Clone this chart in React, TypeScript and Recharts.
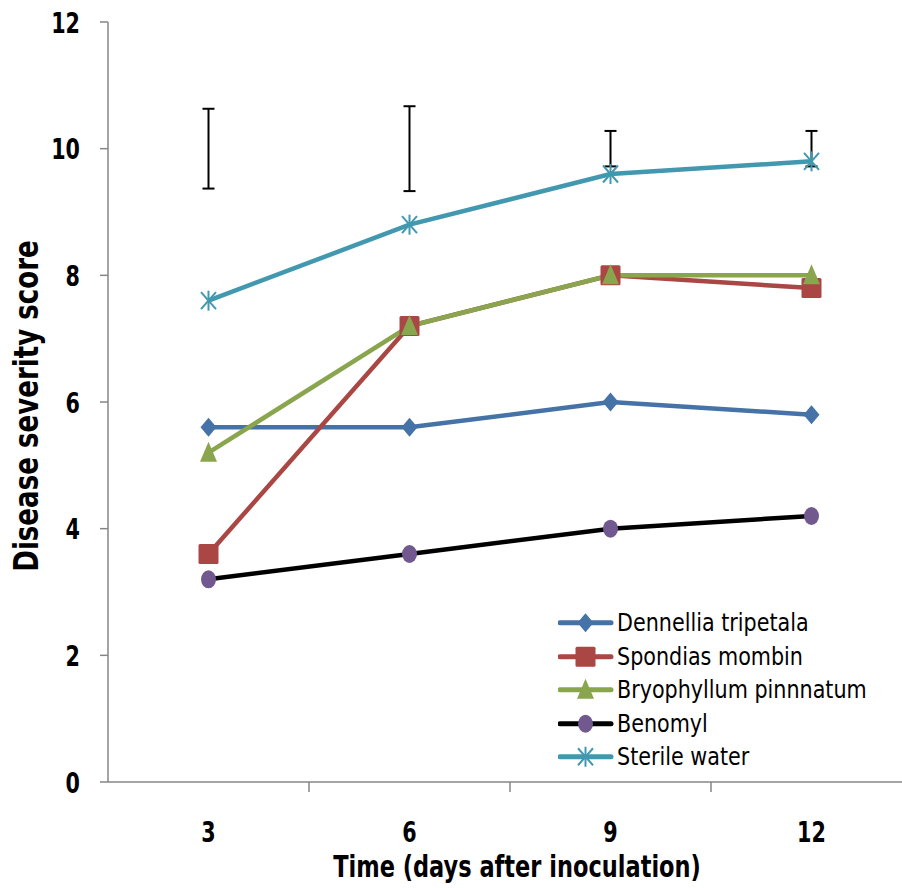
import React from 'react';
import { LineChart, Line, XAxis, YAxis, ErrorBar, Legend, Label } from 'recharts';

const days = [3, 6, 9, 12];
const dennellia = [5.6, 5.6, 6.0, 5.8];
const spondias = [3.6, 7.2, 8.0, 7.8];
const bryophyllum = [5.2, 7.2, 8.0, 8.0];
const benomyl = [3.2, 3.6, 4.0, 4.2];
const sterileWater = [7.6, 8.8, 9.6, 9.8];
const errCenter = [10.0, 10.0, 10.0, 10.0];
const errHalf = [0.63, 0.67, 0.28, 0.28];
const yTicks = [0, 2, 4, 6, 8, 10, 12];
const xTicks = [3, 4.5, 6, 7.5, 9, 10.5, 12];
const seriesNames = ['Dennellia tripetala', 'Spondias mombin', 'Bryophyllum pinnnatum', 'Benomyl', 'Sterile water'];
const xTitle = 'Time (days after inoculation)';
const yTitle = 'Disease severity score';

const FONT = '"Liberation Sans Narrow", "DejaVu Sans Condensed", "Open Sans", sans-serif';
const AXIS = '#868686';
const BLUE = '#4572A7';
const RED = '#AA4643';
const GREEN = '#89A54E';
const PURPLE = '#71588F';
const TEAL = '#4198AF';

const data = days.map((d, i) => ({
  day: d,
  den: dennellia[i],
  spo: spondias[i],
  bry: bryophyllum[i],
  ben: benomyl[i],
  ste: sterileWater[i],
  errMid: errCenter[i],
  errRange: errHalf[i],
}));

type M = (cx: number, cy: number, key?: string) => React.ReactElement;

const diamond: M = (cx, cy, key) => (
  <path key={key} d={`M${cx},${cy - 9.5} L${cx + 8},${cy} L${cx},${cy + 9.5} L${cx - 8},${cy} Z`} fill={BLUE} />
);
const square: M = (cx, cy, key) => (
  <rect key={key} x={cx - 10} y={cy - 10} width={20} height={20} rx={1.5} fill={RED} />
);
const triangle: M = (cx, cy, key) => (
  <path key={key} d={`M${cx},${cy - 11} L${cx + 8.5},${cy + 9} L${cx - 8.5},${cy + 9} Z`} fill={GREEN} />
);
const ellipse: M = (cx, cy, key) => (
  <ellipse key={key} cx={cx} cy={cy} rx={7.5} ry={9} fill={PURPLE} />
);
const star: M = (cx, cy, key) => (
  <g key={key} stroke={TEAL} strokeWidth={2}>
    <line x1={cx - 7.5} y1={cy - 8.5} x2={cx + 7.5} y2={cy + 8.5} />
    <line x1={cx - 7.5} y1={cy + 8.5} x2={cx + 7.5} y2={cy - 8.5} />
    <line x1={cx} y1={cy - 10} x2={cx} y2={cy + 10} />
  </g>
);

const series = [
  { key: 'den', name: seriesNames[0], color: BLUE, marker: diamond },
  { key: 'spo', name: seriesNames[1], color: RED, marker: square },
  { key: 'bry', name: seriesNames[2], color: GREEN, marker: triangle },
  { key: 'ben', name: seriesNames[3], color: '#000000', marker: ellipse },
  { key: 'ste', name: seriesNames[4], color: TEAL, marker: star },
];

// Scaled SVG text (tall, narrow look)
const ST = (p: {
  x: number; y: number; size: number; sy: number; anchor: 'start' | 'middle' | 'end';
  rotate?: number; dyEm?: number; children: React.ReactNode;
}) => (
  <g transform={`translate(${p.x},${p.y}) rotate(${p.rotate || 0}) scale(1,${p.sy})`}>
    <text
      x={0}
      y={(p.dyEm || 0) * p.size}
      textAnchor={p.anchor}
      fontSize={p.size}
      fontWeight={700}
      fontFamily={FONT}
      fill="#000"
    >
      {p.children}
    </text>
  </g>
);

const XTick = (props: any) => {
  const { x, y, payload } = props;
  const v = payload.value;
  if (v % 3 === 0) {
    return (
      <ST x={x} y={y + 60} size={23} sy={1.25} anchor="middle">
        {v}
      </ST>
    );
  }
  return <line x1={x} y1={y} x2={x} y2={y + 10} stroke={AXIS} strokeWidth={1.5} />;
};

const YTick = (props: any) => {
  const { x, y, payload } = props;
  return (
    <ST x={x} y={y} size={23} sy={1.25} anchor="end" dyEm={0.365}>
      {payload.value}
    </ST>
  );
};

const LegendContent = () => (
  <div style={{ fontFamily: FONT, fontSize: 23, color: '#000' }}>
    {series.map((s) => (
      <div key={s.key} style={{ height: 33.5, display: 'flex', alignItems: 'center', whiteSpace: 'nowrap' }}>
        <svg width={59} height={33.5} style={{ display: 'block', flexShrink: 0 }}>
          <line x1={2} y1={16.75} x2={53} y2={16.75} stroke={s.color} strokeWidth={5} strokeLinecap="round" />
          {s.marker(27.5, 16.75)}
        </svg>
        <span style={{ display: 'inline-block', lineHeight: '33.5px', transform: 'scaleY(1.1)' }}>{s.name}</span>
      </div>
    ))}
  </div>
);

export default function App() {
  return (
    <div style={{ position: 'absolute', left: 0, top: 0 }}>
      <LineChart width={920} height={888} data={data} margin={{ top: 22, right: 8, bottom: 0, left: 0 }}>
        <XAxis
          dataKey="day"
          type="number"
          domain={[1.5, 13.5]}
          ticks={xTicks}
          interval={0}
          tickSize={0}
          tickMargin={0}
          tickLine={false}
          axisLine={{ stroke: AXIS, strokeWidth: 1.5 }}
          height={106}
          tick={<XTick />}
          allowDataOverflow
        >
          <Label
            content={(p: any) => {
              const vb = p.viewBox || { x: 108, y: 782, width: 804, height: 106 };
              return (
                <ST x={vb.x + vb.width / 2 + 7} y={vb.y + 95} size={25} sy={1.2} anchor="middle">
                  {xTitle}
                </ST>
              );
            }}
          />
        </XAxis>
        <YAxis
          type="number"
          domain={[0, 12]}
          ticks={yTicks}
          interval={0}
          width={108}
          tickSize={8}
          tickMargin={20}
          axisLine={{ stroke: AXIS, strokeWidth: 1.5 }}
          tickLine={{ stroke: AXIS, strokeWidth: 1.5 }}
          tick={<YTick />}
        >
          <Label
            content={(p: any) => {
              const vb = p.viewBox || { x: 0, y: 22, width: 108, height: 760 };
              return (
                <ST x={vb.x + 26} y={vb.y + vb.height / 2 + 4} size={29} sy={1.15} anchor="middle" rotate={-90} dyEm={0.365}>
                  {yTitle}
                </ST>
              );
            }}
          />
        </YAxis>
        <Legend
          layout="vertical"
          align="center"
          verticalAlign="middle"
          content={<LegendContent />}
          wrapperStyle={{ left: 558, top: 606, width: 340 }}
        />
        <Line
          dataKey="errMid"
          stroke="none"
          dot={false}
          activeDot={false}
          legendType="none"
          isAnimationActive={false}
        >
          <ErrorBar dataKey="errRange" width={6} stroke="#000" strokeWidth={2} direction="y" />
        </Line>
        {series.map((s) => (
          <Line
            key={s.key}
            dataKey={s.key}
            name={s.name}
            stroke={s.color}
            strokeWidth={4.5}
            isAnimationActive={false}
            activeDot={false}
            dot={(p: any) => s.marker(p.cx, p.cy, `${s.key}-${p.index}`)}
          />
        ))}
      </LineChart>
    </div>
  );
}
